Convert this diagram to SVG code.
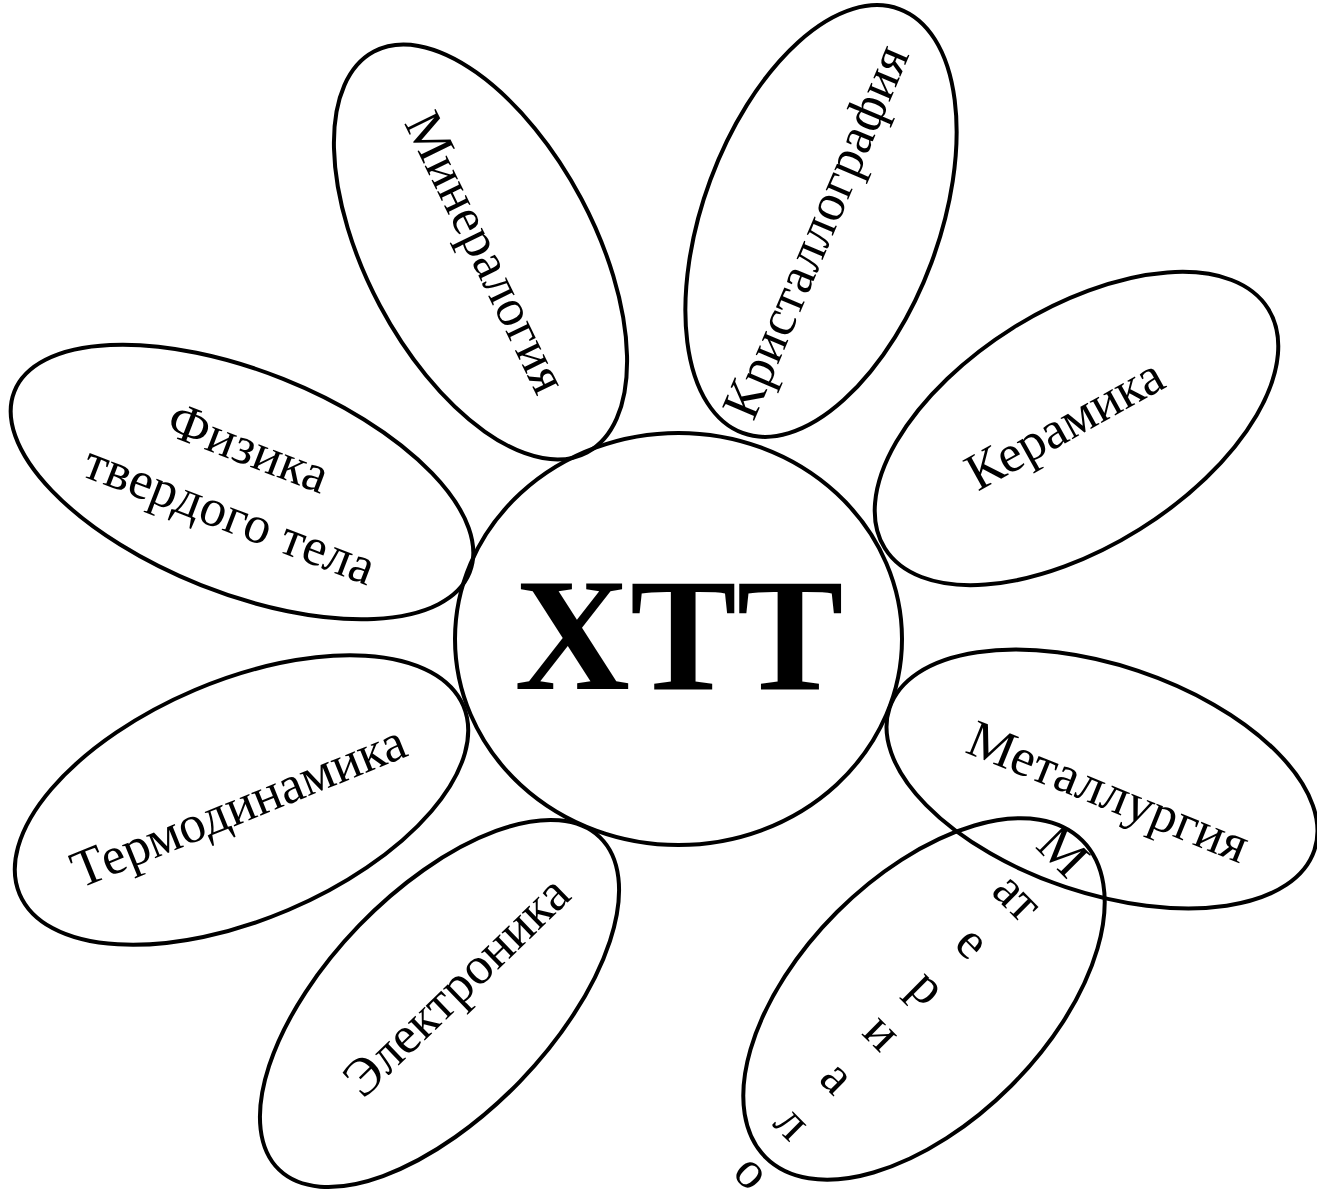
<svg xmlns="http://www.w3.org/2000/svg" width="1317" height="1189" viewBox="0 0 1317 1189">
<style>
.shape{fill:none;stroke:#000;stroke-width:4}
.lbl{font-family:"Liberation Serif","Times New Roman",serif;font-size:53px;text-anchor:middle;fill:#000}
.core{font-family:"Liberation Serif","Times New Roman",serif;font-size:160px;font-weight:bold;text-anchor:middle;fill:#000}
</style>
<rect width="1317" height="1189" fill="#fff"/>
<g id="connectors"></g>
<g id="node-center">
<ellipse class="shape" cx="678.5" cy="639" rx="223.5" ry="206"/>
<text class="core" x="679" y="689">ХТТ</text>
</g>
<g id="node-mineralogy">
<ellipse class="shape" cx="480.5" cy="252" rx="227" ry="114" transform="rotate(62 480.5 252)"/>
<text class="lbl" transform="translate(485 253) rotate(64)" x="0" y="16">Минералогия</text>
</g>
<g id="node-crystallography">
<ellipse class="shape" cx="821" cy="221" rx="226" ry="118" transform="rotate(-69.7 821 221)"/>
<text class="lbl" transform="translate(817 232) rotate(-67)" x="0" y="16">Кристаллография</text>
</g>
<g id="node-ceramics">
<ellipse class="shape" cx="1076.5" cy="428.5" rx="226" ry="119" transform="rotate(-32 1076.5 428.5)"/>
<text class="lbl" transform="translate(1065 425) rotate(-29)" x="0" y="16">Керамика</text>
</g>
<g id="node-metallurgy">
<ellipse class="shape" cx="1102" cy="779" rx="224" ry="114" transform="rotate(18.5 1102 779)"/>
<text class="lbl" transform="translate(1108 793) rotate(22)" x="0" y="16">Металлургия</text>
</g>
<g id="node-materials">
<ellipse class="shape" cx="924" cy="999" rx="224" ry="123" transform="rotate(-45 924 999)"/>
<text class="lbl" transform="translate(1067 857) rotate(45)">
<tspan x="0" y="16">М</tspan>
<tspan x="0" y="79.7">ат</tspan>
<tspan x="0" y="143.4">е</tspan>
<tspan x="0" y="207.1">р</tspan>
<tspan x="0" y="270.8">и</tspan>
<tspan x="0" y="334.5">а</tspan>
<tspan x="0" y="398.2">л</tspan>
<tspan x="0" y="461.9">о</tspan>
</text>
</g>
<g id="node-electronics">
<ellipse class="shape" cx="439.5" cy="1003.5" rx="231" ry="112" transform="rotate(-46 439.5 1003.5)"/>
<text class="lbl" transform="translate(457 987) rotate(-44)" x="0" y="16">Электроника</text>
</g>
<g id="node-thermodynamics">
<ellipse class="shape" cx="241.5" cy="800" rx="241" ry="119.5" transform="rotate(-23 241.5 800)"/>
<text class="lbl" transform="translate(239 807) rotate(-22)" x="0" y="16">Термодинамика</text>
</g>
<g id="node-solid-state-physics">
<ellipse class="shape" cx="242" cy="482" rx="245" ry="111" transform="rotate(21.7 242 482)"/>
<text class="lbl" transform="translate(242 483) rotate(21)">
<tspan x="0" y="-18">Физика</tspan>
<tspan x="0" y="51">твердого тела</tspan>
</text>
</g>
</svg>
